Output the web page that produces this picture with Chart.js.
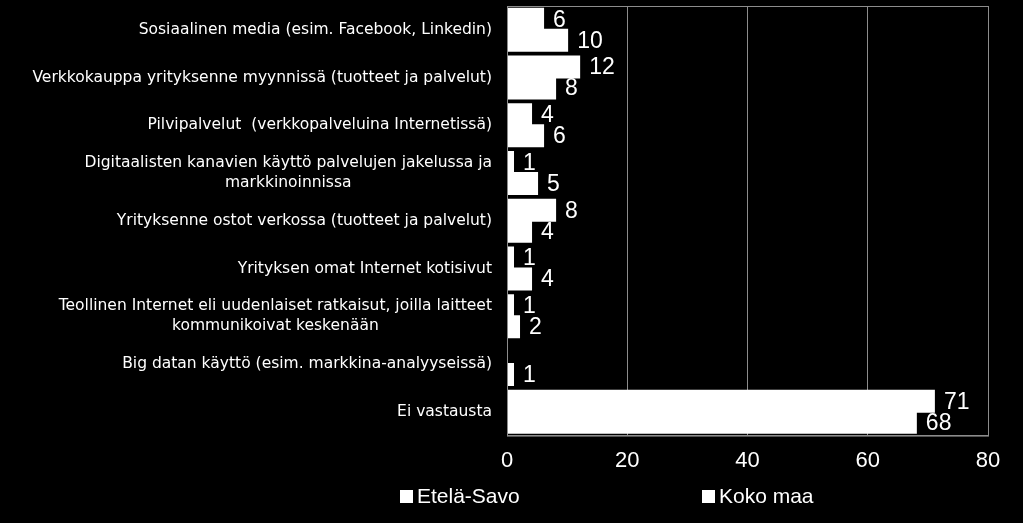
<!DOCTYPE html>
<html>
<head>
<meta charset="utf-8">
<script src="https://cdn.jsdelivr.net/npm/chart.js@4"></script>
<style>
  html, body { margin: 0; padding: 0; background: #000; }
  #wrap { width: 1023px; height: 523px; }
</style>
</head>
<body>
<div id="wrap"><canvas id="chart" width="1023" height="523"></canvas></div>
<script>
// kategoriat (rivit) ja sarjat
const categories = [
  ["Sosiaalinen media (esim. Facebook, Linkedin)"],
  ["Verkkokauppa yrityksenne myynnissä (tuotteet ja palvelut)"],
  ["Pilvipalvelut  (verkkopalveluina Internetissä)"],
  ["Digitaalisten kanavien käyttö palvelujen jakelussa ja", "markkinoinnissa"],
  ["Yrityksenne ostot verkossa (tuotteet ja palvelut)"],
  ["Yrityksen omat Internet kotisivut"],
  ["Teollinen Internet eli uudenlaiset ratkaisut, joilla laitteet", "kommunikoivat keskenään"],
  ["Big datan käyttö (esim. markkina-analyyseissä)"],
  ["Ei vastausta"]
];
const seriesNames = ["Etelä-Savo", "Koko maa"];
const eteläSavo = [6, 12, 4, 1, 8, 1, 1, 0, 71];
const kokoMaa = [10, 8, 6, 5, 4, 4, 2, 1, 68];
const xTicks = [0, 20, 40, 60, 80];

const FONT = "'Liberation Sans', Arial, sans-serif";
const LABEL_FONT = "'DejaVu Sans', sans-serif";

// reunat, luokkien nimet, arvot ja selite piirretään itse
const customDraw = {
  id: "customDraw",
  afterDatasetsDraw(chart) {
    const ctx = chart.ctx;
    const area = chart.chartArea;
    const yScale = chart.scales.y;

    // kehys
    ctx.save();
    ctx.strokeStyle = "#8c8c8c";
    ctx.lineWidth = 1;
    ctx.strokeRect(area.left + 0.5, area.top + 0.5, area.right - area.left, area.bottom - area.top);
    ctx.restore();

    // luokkien nimet, rivit keskitetty toisiinsa nähden
    ctx.save();
    ctx.fillStyle = "#ffffff";
    ctx.font = "15px " + LABEL_FONT;
    // sovitetaan pisin rivi n. 460 px levyiseksi
    let widest = 0;
    categories.forEach(lines => lines.forEach(l => { widest = Math.max(widest, ctx.measureText(l).width); }));
    const size = 15 * 460 / widest;
    ctx.font = size.toFixed(2) + "px " + LABEL_FONT;
    ctx.textBaseline = "middle";
    ctx.textAlign = "center";
    const rightEdge = area.left - 15;
    categories.forEach((lines, i) => {
      const cy = yScale.getPixelForValue(i);
      const w = Math.max(...lines.map(l => ctx.measureText(l).width));
      const cx = rightEdge - w / 2;
      const lh = 20;
      lines.forEach((l, j) => {
        ctx.fillText(l, cx, cy + (j - (lines.length - 1) / 2) * lh);
      });
    });
    ctx.restore();

    // arvot palkkien päähän
    ctx.save();
    ctx.fillStyle = "#ffffff";
    ctx.font = "23px " + FONT;
    ctx.textBaseline = "middle";
    ctx.textAlign = "left";
    chart.data.datasets.forEach((ds, di) => {
      const meta = chart.getDatasetMeta(di);
      meta.data.forEach((bar, i) => {
        if (!ds.data[i]) return;
        ctx.fillText(String(ds.data[i]), bar.x + 10, bar.y + 1);
      });
    });
    ctx.restore();

    // selite
    ctx.save();
    ctx.fillStyle = "#ffffff";
    ctx.font = "21px " + FONT;
    ctx.textBaseline = "middle";
    ctx.textAlign = "left";
    const legendX = [400, 702];
    const legendY = 497;
    seriesNames.forEach((name, i) => {
      ctx.fillRect(legendX[i], legendY - 7, 13, 13);
      ctx.fillText(name, legendX[i] + 17, legendY);
    });
    ctx.restore();
  }
};

new Chart(document.getElementById("chart").getContext("2d"), {
  type: "bar",
  data: {
    labels: categories.map(c => c.join(" ")),
    datasets: [
      { label: seriesNames[0], data: eteläSavo, backgroundColor: "#ffffff", borderWidth: 0, inflateAmount: 1 },
      { label: seriesNames[1], data: kokoMaa, backgroundColor: "#ffffff", borderWidth: 0, inflateAmount: 1 }
    ]
  },
  options: {
    indexAxis: "y",
    responsive: false,
    animation: false,
    maintainAspectRatio: false,
    categoryPercentage: 0.88,
    barPercentage: 1.0,
    layout: { padding: { left: 499, right: 35, top: 6, bottom: 37 } },
    plugins: {
      legend: { display: false },
      tooltip: { enabled: false }
    },
    scales: {
      x: {
        min: 0,
        max: 80,
        afterBuildTicks(scale) { scale.ticks = xTicks.map(v => ({ value: v })); },
        grid: { color: "#8c8c8c", drawTicks: false },
        border: { color: "#8c8c8c" },
        ticks: { color: "#ffffff", font: { size: 22, family: FONT }, padding: 12 }
      },
      y: {
        grid: { display: false },
        border: { color: "#8c8c8c" },
        ticks: { display: false }
      }
    }
  },
  plugins: [customDraw]
});
</script>
</body>
</html>
